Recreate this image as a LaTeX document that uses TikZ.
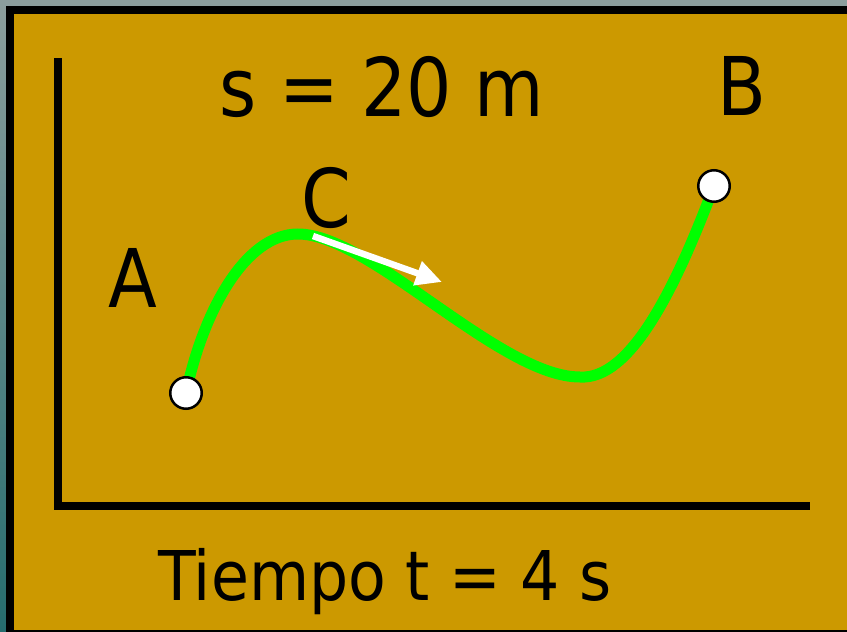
\documentclass[tikz,border=0pt]{standalone}
\usepackage{fontspec}
\setmainfont{DejaVu Sans}
\usetikzlibrary{arrows.meta}
\definecolor{gold}{RGB}{204,153,0}
\definecolor{curvegreen}{RGB}{0,255,0}
\definecolor{slate}{RGB}{140,158,158}
\definecolor{edgeteal}{RGB}{38,108,110}

\begin{document}
\begin{tikzpicture}[x=1pt,y=-1pt,
  lbl/.style={font=\fontsize{81}{90}\selectfont,inner sep=0pt,anchor=base,xscale=0.88},
  foot/.style={font=\fontsize{68.6}{80}\selectfont,inner sep=0pt,anchor=base,xscale=0.9},
  axis/.style={line width=8pt},
  trail/.style={curvegreen,line width=11pt},
  vel/.style={white,line width=6.5pt,-{Triangle[length=26pt,width=24pt]}},
  pt/.style={circle,draw=black,fill=white,line width=2.5pt,minimum size=31.5pt,inner sep=0pt}]
\useasboundingbox (0,0) rectangle (847,632);
% frame
\fill[slate] (0,0) rectangle (847,632);
\shade[top color=slate,bottom color=edgeteal] (0,0) rectangle (6,632);
\fill[black] (6,6) rectangle (847,632);
\fill[gold] (14,14) rectangle (847,630);
% axes
\coordinate (ytop) at (58,58);
\coordinate (org) at (58,506);
\coordinate (xend) at (810,506);
\draw[axis] (ytop)--(org)--(xend);
% trajectory
\coordinate (a) at (186,393);
\coordinate (c) at (298,234);
\coordinate (low) at (580,377);
\coordinate (b) at (714,186);
\draw[trail] (a) .. controls (203,312) and (245,234) .. (c)
  .. controls (370,234) and (500,377) .. (low)
  .. controls (630,380) and (675,290) .. (b);
\node[pt] (ptA) at (a) {};
\node[pt] (ptB) at (b) {};
% velocity
\coordinate (vS) at (313,236);
\coordinate (vE) at (442,282);
\draw[vel] (vS)--(vE);
% labels
\node[lbl] (dist) at (382,116) {s = 20 m};
\node[lbl] (labA) at (133,307) {A};
\node[lbl] (labC) at (326,227) {C};
\node[lbl] (labB) at (742,115) {B};
\node[foot] (time) at (385,600) {Tiempo t = 4 s};
\end{tikzpicture}
\end{document}
